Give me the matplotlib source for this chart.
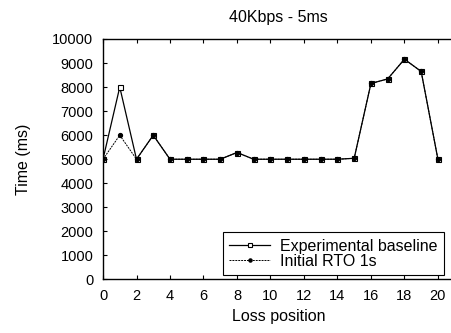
import matplotlib
matplotlib.use('Agg')
from matplotlib import pyplot as plt

positions = list(range(21))
baseline = [5000, 8000, 5000, 6000, 5000, 5000, 5000, 5000, 5280, 5000, 5000,
            5000, 5000, 5000, 5000, 5040, 8150, 8340, 9160, 8650, 5000]
rto_1s = [5000, 6000, 5000, 6000, 5000, 5000, 5000, 5000, 5280, 5000, 5000,
          5000, 5000, 5000, 5000, 5040, 8150, 8340, 9160, 8650, 5000]

plt.rcParams['font.family'] = ['Liberation Sans', 'DejaVu Sans']
fs = 11.5

fig = plt.figure(dpi=100, figsize=(4.52, 3.33))
ax = fig.add_axes([0.2279, 0.1607, 0.778, 0.7222])

ax.plot(positions, baseline, c='black', linewidth=0.9, marker='s',
        markersize=3.6, markerfacecolor='white', markeredgewidth=0.8,
        label='Experimental baseline')
ax.plot(positions, rto_1s, c='black', linewidth=0.7, linestyle=(0, (2, 1)),
        marker='o', markersize=2.8, label='Initial RTO 1s')

ax.set_xlim(0, 21)
ax.set_ylim(0, 10000)
ax.set_xticks(range(0, 21, 2))
ax.set_yticks(range(0, 10001, 1000))
ax.tick_params(axis='both', direction='in', length=3, width=0.8,
               labelsize=10.5, top=True, right=True, pad=7)
for s in ax.spines.values():
    s.set_linewidth(1.0)

ax.set_title('40Kbps - 5ms', fontsize=fs, pad=12)
ax.set_xlabel('Loss position', fontsize=fs, labelpad=4)
ax.set_ylabel('Time (ms)', fontsize=fs, labelpad=15)

leg = ax.legend(loc='lower right', bbox_to_anchor=(0.9695, 0.0187),
                borderaxespad=0, fancybox=False, framealpha=1,
                edgecolor='black', fontsize=fs, handlelength=2.6,
                handletextpad=0.6, borderpad=0.4, labelspacing=0.0,
                markerscale=0.8)
leg.get_frame().set_linewidth(0.8)

fig.savefig('out.png', dpi=100)
